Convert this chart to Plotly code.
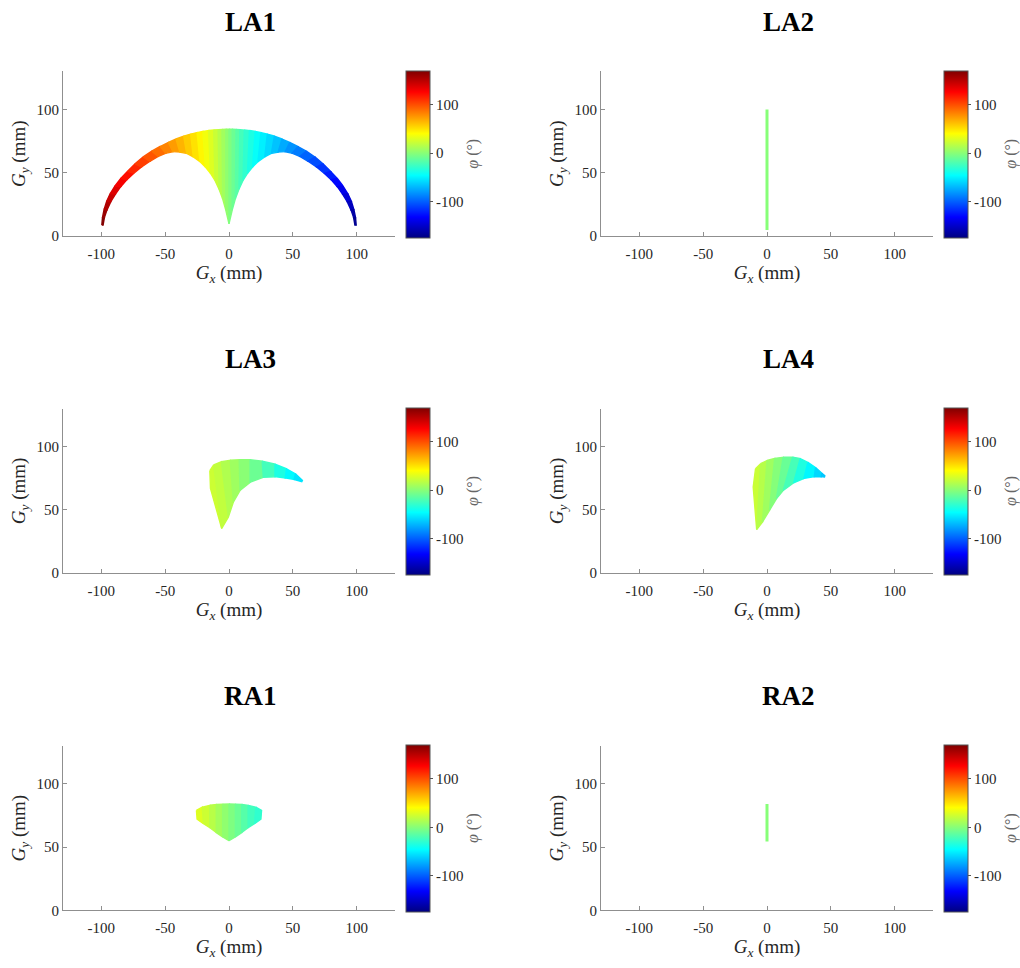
import plotly.graph_objects as go
from plotly.subplots import make_subplots
from plotly.colors import sample_colorscale

# Workspace slices: for every orientation phi a segment from an outer to an inner point

la1_phi = [172, 166, 158, 150, 142, 134, 126, 118, 110, 102, 94, 86, 78, 70, 62, 54, 47, 40, 33, 26, 19, 12, 6, 0,
           -6, -12, -19, -26, -33, -40, -47, -54, -62, -70, -78, -86, -94, -102, -110, -118, -126, -134, -142,
           -150, -158, -166, -172]
la1_x_out = [-99.6, -99.1, -97.8, -95.8, -93, -89.3, -84.8, -79.6, -73.6, -67.2, -60.5, -54, -47.5, -41.5,
             -35.5, -30, -25, -20.5, -16, -12, -8.5, -5.5, -2.5, 0,
             2.5, 5.5, 8.5, 12, 16, 20.5, 25, 30, 35.5, 41.5, 47.5, 54, 60.5, 67.2, 73.6, 79.6, 84.8, 89.3,
             93, 95.8, 97.8, 99.1, 99.6]
la1_y_out = [8.6, 14.5, 21, 27.5, 33.5, 39.5, 45.5, 51, 57, 62.5, 67, 70.7, 73.9, 76.6, 78.9, 80.5, 81.7,
             82.6, 83.3, 83.7, 84, 84.2, 84.3, 84.3,
             84.3, 84.2, 84, 83.7, 83.3, 82.6, 81.7, 80.5, 78.9, 76.6, 73.9, 70.7, 67, 62.5, 57, 51, 45.5,
             39.5, 33.5, 27.5, 21, 14.5, 8.6]
la1_x_in = [-98.6, -97.6, -95.6, -92.6, -89, -84.8, -80, -74.5, -68.5, -62, -55.5, -49.5, -44, -38.5,
            -33.2, -28, -22.7, -18.5, -14.5, -11, -7.8, -5, -2.5, 0,
            2.5, 5, 7.8, 11, 14.5, 18.5, 22.7, 28, 33.2, 38.5, 44, 49.5, 55.5, 62, 68.5, 74.5, 80, 84.8,
            89, 92.6, 95.6, 97.6, 98.6]
la1_y_in = [8.6, 14.5, 20.5, 27, 33, 39, 44.5, 49.5, 54.5, 59, 62.8, 65.3, 66.6, 66.3, 65.3, 62.5, 58.8,
            54.5, 49.5, 44, 37, 29.5, 20.5, 9.6,
            20.5, 29.5, 37, 44, 49.5, 54.5, 58.8, 62.5, 65.3, 66.3, 66.6, 65.3, 62.8, 59, 54.5, 49.5, 44.5,
            39, 33, 27, 20.5, 14.5, 8.6]

la2_phi = [0]
la2_x_out = [0]
la2_y_out = [100]
la2_x_in = [0]
la2_y_in = [4.7]

la3_phi = [25, 22, 17, 11, 5, -3, -15, -30, -42, -52, -57]
la3_x_out = [-15, -12, -6, 1, 8, 16.5, 26, 36, 45, 52, 57.5]
la3_y_out = [81, 85.5, 88, 89.2, 89.6, 89.6, 88.5, 86.2, 82.5, 78.5, 73.3]
la3_x_in = [-14.5, -5.7, -0.5, 3.4, 8.6, 16.5, 26.9, 36, 44, 51, 57]
la3_y_in = [67, 35.3, 44.4, 56.1, 65.3, 71.8, 75.7, 76.2, 75.3, 74, 72.3]

la4_phi = [25, 20, 12, 4, -5, -15, -28, -42, -54, -63, -67]
la4_x_out = [-9, -5, 0, 6, 12.7, 20, 26, 32, 38, 43, 45.3]
la4_y_out = [82.5, 86.5, 89, 90.7, 91.6, 91.7, 90.5, 87.5, 83.5, 79, 77]
la4_x_in = [-10.8, -8.1, -3.5, 1.9, 7.3, 12.7, 20.8, 28.9, 37, 42.5, 45]
la4_y_in = [68, 34.5, 40.5, 49.6, 58.7, 65.3, 71.3, 74.9, 76.2, 76.2, 76]

ra1_phi = [32, 27, 20, 13, 6, 0, -6, -13, -20, -27, -32]
ra1_x_out = [-25.5, -21, -15, -10, -5, 0, 5, 10, 15, 21, 25.5]
ra1_y_out = [79, 81.5, 83, 83.6, 83.8, 84, 83.8, 83.6, 83, 81.5, 79]
ra1_x_in = [-25, -20, -15, -10, -5, 0, 5, 10, 15, 20, 25]
ra1_y_in = [72, 68.5, 65.3, 61.5, 58, 55, 58, 61.5, 65.3, 68.5, 72]

ra2_phi = [0]
ra2_x_out = [0]
ra2_y_out = [84]
ra2_x_in = [0]
ra2_y_in = [54.5]

titles = ["LA1", "LA2", "LA3", "LA4", "RA1", "RA2"]
x_ticks = [-100, -50, 0, 50, 100]
y_ticks = [0, 50, 100]
cbar_ticks = [-100, 0, 100]
CMIN, CMAX = -175, 170

# MATLAB jet
JET = [[0, "rgb(0,0,128)"], [0.125, "rgb(0,0,255)"], [0.375, "rgb(0,255,255)"],
       [0.625, "rgb(255,255,0)"], [0.875, "rgb(255,0,0)"], [1, "rgb(128,0,0)"]]

panels = [
    (la1_phi, la1_x_out, la1_y_out, la1_x_in, la1_y_in),
    (la2_phi, la2_x_out, la2_y_out, la2_x_in, la2_y_in),
    (la3_phi, la3_x_out, la3_y_out, la3_x_in, la3_y_in),
    (la4_phi, la4_x_out, la4_y_out, la4_x_in, la4_y_in),
    (ra1_phi, ra1_x_out, ra1_y_out, ra1_x_in, ra1_y_in),
    (ra2_phi, ra2_x_out, ra2_y_out, ra2_x_in, ra2_y_in),
]

W, H = 1020, 968
FONT = "Liberation Serif"


def px_x(v):
    return v / W


def px_y(v):
    return 1 - v / H


def jet(phi):
    return sample_colorscale(JET, [(phi - CMIN) / (CMAX - CMIN)])[0]


fig = make_subplots(rows=3, cols=2)

for k, (phi, xo, yo, xi, yi) in enumerate(panels):
    row, col = k // 2 + 1, k % 2 + 1
    if len(phi) == 1:
        c = jet(phi[0])
        fig.add_trace(go.Scatter(x=[xi[0], xo[0]], y=[yi[0], yo[0]], mode="lines",
                                 line=dict(color=c, width=3), hoverinfo="skip",
                                 showlegend=False), row=row, col=col)
    else:
        for i in range(len(phi) - 1):
            c = jet((phi[i] + phi[i + 1]) / 2)
            fig.add_trace(go.Scatter(
                x=[xo[i], xo[i + 1], xi[i + 1], xi[i], xo[i]],
                y=[yo[i], yo[i + 1], yi[i + 1], yi[i], yo[i]],
                mode="lines", fill="toself", fillcolor=c,
                line=dict(color=c, width=1.4), hoverinfo="skip", showlegend=False),
                row=row, col=col)
    # carrier for the colorbar
    ca = "coloraxis" if k == 0 else "coloraxis%d" % (k + 1)
    fig.add_trace(go.Scatter(x=xo, y=yo, mode="markers",
                             marker=dict(color=phi, coloraxis=ca, size=1, opacity=0),
                             hoverinfo="skip", showlegend=False), row=row, col=col)

    x0 = 63 if col == 1 else 601
    top = 72 + 340 * (row - 1)
    bot = top + 166
    fig.update_xaxes(domain=[px_x(x0), px_x(x0 + 332)], range=[-130, 130],
                     tickvals=x_ticks, ticktext=[str(t) for t in x_ticks],
                     title=dict(text="<i>G</i><sub><i>x</i></sub> (mm)", standoff=3,
                                font=dict(family=FONT, size=19, color="#262626")),
                     row=row, col=col)
    fig.update_yaxes(domain=[px_y(bot), px_y(top)], range=[0, 130],
                     tickvals=y_ticks, ticktext=[str(t) for t in y_ticks],
                     title=dict(text="<i>G</i><sub><i>y</i></sub> (mm)", standoff=5,
                                font=dict(family=FONT, size=19, color="#262626")),
                     row=row, col=col)

    fig.update_layout({ca: dict(
        colorscale=JET, cmin=CMIN, cmax=CMAX,
        colorbar=dict(x=px_x(x0 + 343), xanchor="left", y=px_y((top + bot + 1) / 2),
                      yanchor="middle", len=167, lenmode="pixels", thickness=24,
                      xpad=0, ypad=0, outlinewidth=1, outlinecolor="#555555",
                      tickvals=cbar_ticks, ticktext=[str(t) for t in cbar_ticks],
                      ticks="outside", ticklen=3, tickcolor="#555555",
                      tickfont=dict(family=FONT, size=15, color="#262626")))})

    fig.add_annotation(text="<b>%s</b>" % titles[k], x=px_x(x0 + 187), y=px_y(top - 50),
                       xref="paper", yref="paper", xanchor="center", yanchor="middle",
                       showarrow=False, font=dict(family=FONT, size=27, color="#000000"))
    fig.add_annotation(text="<i>φ</i> (°)", textangle=-90, x=px_x(x0 + 410),
                       y=px_y((top + bot) / 2), xref="paper", yref="paper",
                       xanchor="center", yanchor="middle",
                       showarrow=False, font=dict(family=FONT, size=16, color="#666666"))

fig.update_xaxes(showgrid=False, zeroline=False, showline=True, linecolor="#8f8f8f",
                 linewidth=1, ticks="inside", ticklen=4, tickcolor="#8f8f8f",
                 ticklabelstandoff=4, tickfont=dict(family=FONT, size=15, color="#262626"))
fig.update_yaxes(showgrid=False, zeroline=False, showline=True, linecolor="#8f8f8f",
                 linewidth=1, ticks="inside", ticklen=4, tickcolor="#8f8f8f",
                 tickfont=dict(family=FONT, size=15, color="#262626"))

fig.update_layout(width=W, height=H, margin=dict(l=0, r=0, t=0, b=0),
                  plot_bgcolor="white", paper_bgcolor="white",
                  font=dict(family=FONT))

# the figure fills the whole window, so drop the page's default body margin
fig.write_html("out.html", config={"displayModeBar": False},
               post_script="document.body.style.margin = '0';")
